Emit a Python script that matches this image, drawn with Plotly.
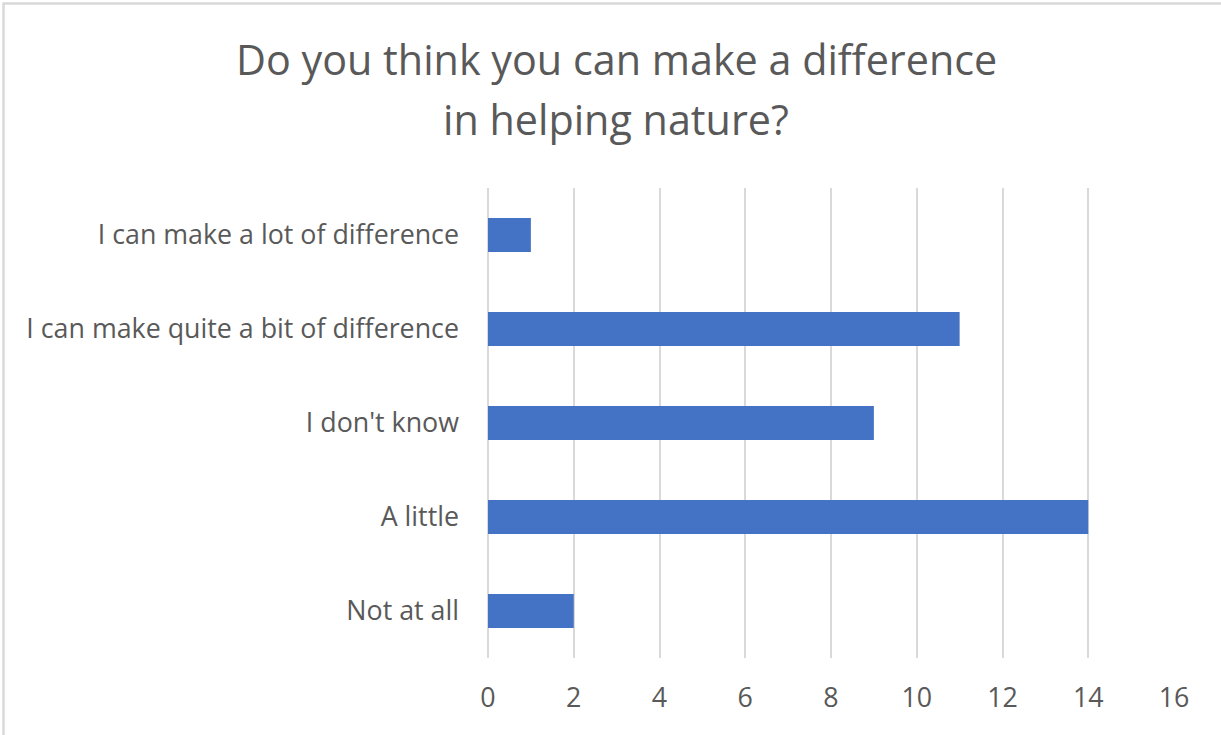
import plotly.graph_objects as go

categories = [
    "I can make a lot of difference",
    "I can make quite a bit of difference",
    "I don't know",
    "A little",
    "Not at all",
]
values = [1, 11, 9, 14, 2]
x_ticks = [0, 2, 4, 6, 8, 10, 12, 14, 16]
title_lines = ["Do you think you can make a difference", "in helping nature?"]

TEXT = "#595959"
FONT = "Open Sans"

W, H = 1221, 735
L, R, T, B = 488, 47, 188, 77
pw, ph = W - L - R, H - T - B

def px_x(px):
    return (px - L) / pw

def px_y(py):
    return (H - B - py) / ph

fig = go.Figure(
    go.Bar(
        x=values,
        y=categories,
        orientation="h",
        marker=dict(color="#4472C4", line=dict(width=0)),
        hoverinfo="x+y",
    )
)

annotations = []
for line, ypx in zip(title_lines, [59, 119]):
    annotations.append(
        dict(
            text=line,
            xref="paper",
            yref="paper",
            x=px_x(616),
            y=px_y(ypx),
            xanchor="center",
            yanchor="middle",
            showarrow=False,
            font=dict(family=FONT, size=41.3, color=TEXT),
        )
    )

fig.update_layout(
    width=W,
    height=H,
    margin=dict(l=L, r=R, t=T, b=B, pad=0),
    paper_bgcolor="white",
    plot_bgcolor="white",
    bargap=0.64,
    showlegend=False,
    font=dict(family=FONT, color=TEXT),
    annotations=annotations,
    xaxis=dict(
        range=[0, 16],
        tickvals=x_ticks,
        showgrid=True,
        gridcolor="#D9D9D9",
        gridwidth=1.5,
        zeroline=True,
        zerolinecolor="#D9D9D9",
        zerolinewidth=1.5,
        showline=False,
        ticks="",
        ticklabelstandoff=21,
        tickfont=dict(family=FONT, size=26.8, color=TEXT),
        fixedrange=True,
    ),
    yaxis=dict(
        autorange="reversed",
        showgrid=False,
        zeroline=False,
        showline=False,
        ticks="",
        ticklabelstandoff=28,
        tickfont=dict(family=FONT, size=26.8, color=TEXT),
        fixedrange=True,
    ),
    shapes=[
        dict(
            type="rect",
            xref="paper",
            yref="paper",
            x0=px_x(3.5),
            x1=px_x(1240),
            y0=px_y(760),
            y1=px_y(3.5),
            line=dict(color="#D9D9D9", width=2.5),
            fillcolor="rgba(0,0,0,0)",
            layer="below",
        )
    ],
)

fig.write_html(
    "out.html",
    config={"displayModeBar": False},
    post_script="document.body.style.margin='0';document.body.style.overflow='hidden';",
)
